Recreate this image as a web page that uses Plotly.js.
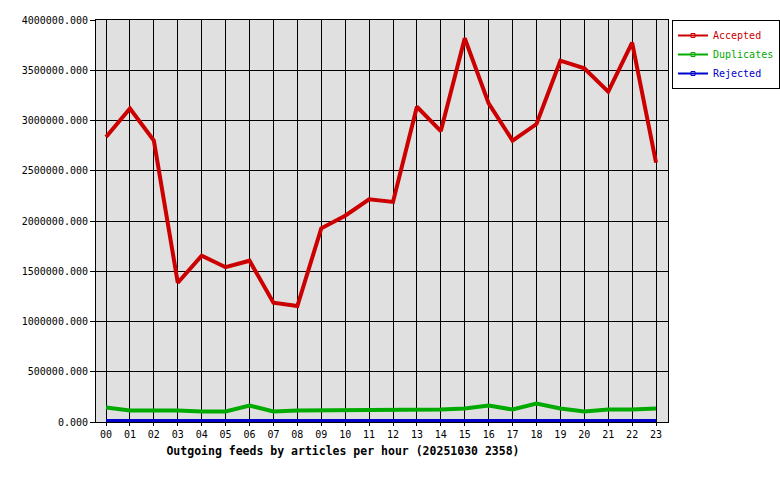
<!DOCTYPE html>
<html><head><meta charset="utf-8">
<script src="https://cdn.plot.ly/plotly-3.0.1.min.js"></script>
<style>html,body{margin:0;padding:0;background:#fff}#c{width:780px;height:480px}</style>
</head><body><div id="c"></div>
<script>
const hours = ["00","01","02","03","04","05","06","07","08","09","10","11","12","13","14","15","16","17","18","19","20","21","22","23"];
const accepted = [2835000,3120000,2800000,1386000,1655000,1540000,1605000,1187000,1154000,1927000,2053000,2216000,2190000,3137000,2895000,3818000,3170000,2800000,2965000,3595000,3520000,3287000,3774000,2580000];
const duplicates = [144000,114000,114000,114000,104000,104000,164000,104000,114000,114000,114000,114000,114000,114000,124000,134000,164000,124000,184000,134000,104000,124000,124000,134000];
const rejected = [10000,10000,10000,10000,10000,10000,10000,10000,10000,10000,10000,10000,10000,10000,10000,10000,10000,10000,10000,10000,10000,10000,10000,10000];
const seriesNames = ["Accepted","Duplicates","Rejected"];
const seriesColors = ["#cc0000","#00aa00","#0000cc"];
const seriesData = [accepted, duplicates, rejected];

const mono = "DejaVu Sans Mono, Liberation Mono, monospace";
const traces = [];
seriesData.forEach((vals, i) => {
  traces.push({x: hours, y: vals, type: "scatter", mode: "lines",
    line: {color: seriesColors[i], width: 4}, showlegend: false, hoverinfo: "skip"});
});
seriesNames.forEach((n, i) => {
  traces.push({x: [null], y: [null], type: "scatter", mode: "lines+markers",
    name: '<span style="color:' + seriesColors[i] + '">' + n + '</span>',
    line: {color: seriesColors[i], width: 2},
    marker: {symbol: "square-open", size: 4, color: seriesColors[i], line: {width: 1}},
    showlegend: true});
});

const layout = {
  width: 780, height: 480,
  margin: {l: 96, r: 112, t: 20, b: 58, pad: 0},
  paper_bgcolor: "#ffffff", plot_bgcolor: "#e0e0e0",
  font: {family: mono, size: 10, color: "#000"},
  title: {text: "<b>Outgoing feeds by articles per hour (20251030 2358)</b>",
    font: {family: mono, size: 11.5, color: "#000"},
    x: 343/780, xanchor: "center", xref: "container",
    y: (480-451)/480, yanchor: "middle", yref: "container"},
  xaxis: {type: "category", range: [-0.42, 23.5], showgrid: true, gridcolor: "#000", gridwidth: 1,
    showline: true, linecolor: "#000", linewidth: 1, mirror: true,
    ticks: "outside", ticklen: 3, tickcolor: "#000", tickfont: {family: mono, size: 10},
    zeroline: false, fixedrange: true},
  yaxis: {range: [0, 4000000], dtick: 500000, tick0: 0, tickformat: ".3f",
    showgrid: true, gridcolor: "#000", gridwidth: 1,
    showline: true, linecolor: "#000", linewidth: 1, mirror: true,
    ticks: "outside", ticklen: 5, tickcolor: "#000", tickfont: {family: mono, size: 10},
    zeroline: false, fixedrange: true},
  legend: {x: 672/780, xanchor: "left", y: 1 - 20/480, yanchor: "top", xref: "container", yref: "container",
    bgcolor: "#fff", bordercolor: "#000", borderwidth: 1,
    font: {family: mono, size: 10}, itemwidth: 30, tracegroupgap: 0}
};
Plotly.newPlot("c", traces, layout, {displayModeBar: false, staticPlot: true});
</script></body></html>
